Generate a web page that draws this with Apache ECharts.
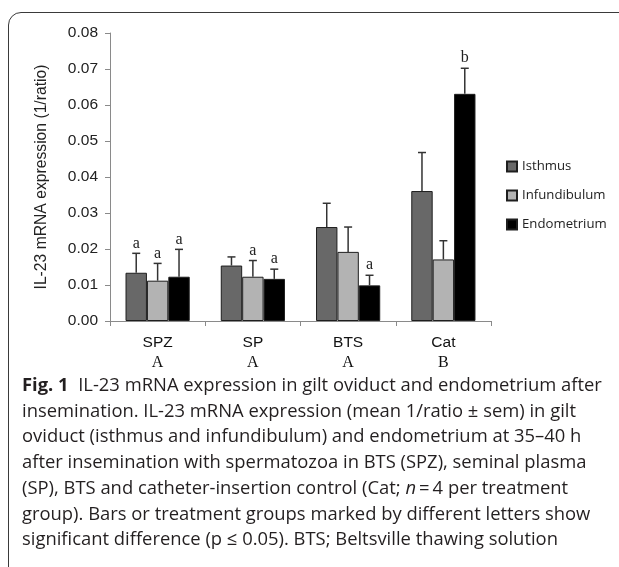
<!DOCTYPE html>
<html>
<head>
<meta charset="utf-8">
<script src="https://cdn.jsdelivr.net/npm/echarts@6/dist/echarts.min.js"></script>
<style>
  html, body { margin: 0; padding: 0; background: #fff; }
  #wrap { position: relative; width: 619px; height: 567px; overflow: hidden; }
  #frame { position: absolute; left: 8px; top: 12px; width: 700px; height: 700px;
           border: 1px solid #3a3a3a; border-top-left-radius: 13px; box-sizing: border-box; }
  #chart { position: absolute; left: 0; top: 0; width: 619px; height: 567px; }
  #caption { position: absolute; left: 22px; top: 371px; width: 600px;
             font-family: "Open Sans", sans-serif; font-size: 18.4px; line-height: 25.7px;
             color: #231f20; white-space: nowrap; }
  #caption b { font-weight: 700; }
</style>
</head>
<body>
<div id="wrap">
  <div id="frame"></div>
  <div id="chart"></div>
  <div id="caption">
    <div><b>Fig. 1</b>&nbsp; IL-23 mRNA expression in gilt oviduct and endometrium after</div>
    <div>insemination. IL-23 mRNA expression (mean 1/ratio ± sem) in gilt</div>
    <div>oviduct (isthmus and infundibulum) and endometrium at 35–40 h</div>
    <div>after insemination with spermatozoa in BTS (SPZ), seminal plasma</div>
    <div>(SP), BTS and catheter-insertion control (Cat; <i>n</i>&thinsp;=&thinsp;4 per treatment</div>
    <div>group). Bars or treatment groups marked by different letters show</div>
    <div>significant difference (p ≤ 0.05). BTS; Beltsville thawing solution</div>
  </div>
</div>
<script>
// ---- data ----
const categories = ['SPZ', 'SP', 'BTS', 'Cat'];
const groupLetters = ['A', 'A', 'A', 'B'];
const seriesNames = ['Isthmus', 'Infundibulum', 'Endometrium'];
const isthmus = [0.0134, 0.0154, 0.0261, 0.0361];
const isthmusSem = [0.0054, 0.0024, 0.0066, 0.0107];
const isthmusLetters = ['a', '', '', ''];
const infundibulum = [0.0112, 0.0123, 0.0192, 0.0171];
const infundibulumSem = [0.0048, 0.0045, 0.0069, 0.0052];
const infundibulumLetters = ['a', 'a', '', ''];
const endometrium = [0.0123, 0.0117, 0.0099, 0.0631];
const endometriumSem = [0.0076, 0.0027, 0.0028, 0.0071];
const endometriumLetters = ['a', 'a', 'a', 'b'];
const yTicks = [0, 0.01, 0.02, 0.03, 0.04, 0.05, 0.06, 0.07, 0.08];

const colors = ['#686868', '#b3b3b3', '#000000'];
const means = [isthmus, infundibulum, endometrium];
const sems = [isthmusSem, infundibulumSem, endometriumSem];
const letters = [isthmusLetters, infundibulumLetters, endometriumLetters];
const CAT_GAP = 0.326;
const SANS = '"Liberation Sans", Arial, sans-serif';
const SERIF = '"Liberation Serif", "Times New Roman", serif';

const chart = echarts.init(document.getElementById('chart'), null, { renderer: 'canvas' });

const barSeries = seriesNames.map((name, i) => ({
  name: name,
  type: 'bar',
  data: means[i],
  barGap: 0,
  barCategoryGap: (CAT_GAP * 100) + '%',
  itemStyle: { color: colors[i], borderColor: '#1e1e1e', borderWidth: 1 },
  silent: true,
  z: 2
}));

const errSeries = seriesNames.map((name, i) => ({
  name: name + ' err',
  type: 'custom',
  silent: true,
  z: 3,
  data: means[i].map((m, k) => [k, m, m + sems[i][k]]),
  renderItem: function (params, api) {
    const k = api.value(0);
    const catW = api.size([1, 0])[0];
    const bw = catW * (1 - CAT_GAP) / 3;
    const off = (i - 1) * bw;
    const base = api.coord([k, api.value(1)]);
    const top = api.coord([k, api.value(2)]);
    const x = base[0] + off;
    const cap = 4;
    const children = [
      { type: 'line', shape: { x1: x, y1: base[1], x2: x, y2: top[1] },
        style: { stroke: '#333', lineWidth: 1.5 } },
      { type: 'line', shape: { x1: x - cap, y1: top[1], x2: x + cap, y2: top[1] },
        style: { stroke: '#333', lineWidth: 1.5 } }
    ];
    const lt = letters[i][params.dataIndex];
    if (lt) {
      children.push({ type: 'text', x: x, y: top[1] - 2,
        style: { text: lt, fill: '#222', font: '16px ' + SERIF,
                 align: 'center', verticalAlign: 'bottom' } });
    }
    return { type: 'group', children: children };
  }
}));

chart.setOption({
  animation: false,
  backgroundColor: 'transparent',
  grid: { left: 110, right: 128, top: 33, bottom: 246, containLabel: false },
  legend: {
    orient: 'vertical',
    left: 501,
    top: 155,
    itemWidth: 10,
    itemHeight: 10,
    itemGap: 16,
    icon: 'rect',
    data: seriesNames,
    textStyle: { fontFamily: '"Open Sans", sans-serif', fontSize: 13.2, color: '#222' },
    selectedMode: false
  },
  xAxis: {
    type: 'category',
    data: categories,
    axisLine: { lineStyle: { color: '#8a8a8a', width: 1 } },
    axisTick: { show: true, length: 5, inside: false, lineStyle: { color: '#8a8a8a' } },
    axisLabel: {
      margin: 12,
      formatter: function (v, idx) { return '{c|' + v + '}\n{g|' + groupLetters[idx] + '}'; },
      rich: {
        c: { fontFamily: SANS, fontSize: 15.5, color: '#111', lineHeight: 20 },
        g: { fontFamily: SERIF, fontSize: 16, color: '#111', lineHeight: 20 }
      }
    }
  },
  yAxis: {
    type: 'value',
    min: yTicks[0],
    max: yTicks[yTicks.length - 1],
    interval: 0.01,
    splitLine: { show: false },
    axisLine: { show: true, lineStyle: { color: '#8a8a8a', width: 1 } },
    axisTick: { show: true, length: 5, lineStyle: { color: '#8a8a8a' } },
    axisLabel: {
      margin: 12,
      formatter: v => v.toFixed(2),
      fontFamily: SANS, fontSize: 15.5, color: '#222'
    },
    name: 'IL-23 mRNA expression (1/ratio)',
    nameLocation: 'middle',
    nameRotate: 90,
    nameGap: 60,
    nameTextStyle: { fontFamily: SANS, fontSize: 15.7, color: '#222' }
  },
  series: barSeries.concat(errSeries)
});
</script>
</body>
</html>
